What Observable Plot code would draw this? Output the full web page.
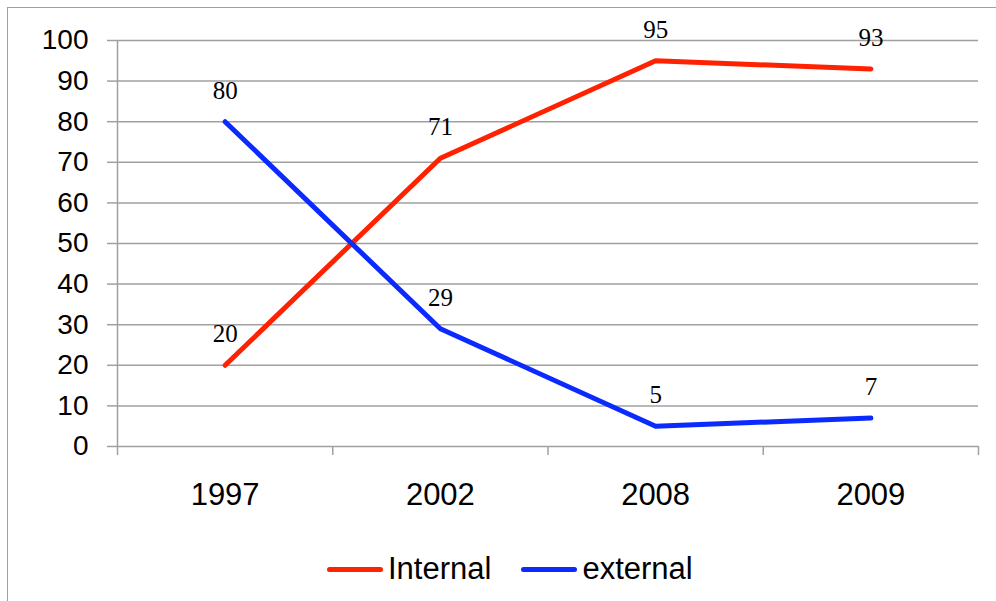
<!DOCTYPE html>
<html>
<head>
<meta charset="utf-8">
<script src="https://cdn.jsdelivr.net/npm/d3@7"></script>
<script src="https://cdn.jsdelivr.net/npm/@observablehq/plot@0.6"></script>
<style>
  html, body { margin: 0; padding: 0; background: #fff; width: 996px; height: 601px; overflow: hidden; }
  #frame { position: absolute; left: 7px; top: 7px; width: 1010px; height: 620px; border: 1.5px solid #a0a0a0; box-sizing: border-box; }
  #chart { position: absolute; left: 0; top: 0; }
  #legend { position: absolute; left: 327px; top: 551px; display: flex; align-items: center; font-family: "Liberation Sans", Arial, sans-serif; font-size: 31px; color: #000; }
  .sw { display: inline-block; width: 56px; height: 5px; border-radius: 3px; margin-right: 5px; }
  .item { display: flex; align-items: center; }
</style>
</head>
<body>
<div id="frame"></div>
<div id="chart"></div>
<div id="legend"></div>
<script>
const years = ["1997", "2002", "2008", "2009"];
const internal = [20, 71, 95, 93];
const external = [80, 29, 5, 7];
const yTicks = [0, 10, 20, 30, 40, 50, 60, 70, 80, 90, 100];
const seriesNames = ["Internal", "external"];
const seriesColors = ["#ff2200", "#0a2aff"];

const rows = years.map((year, i) => ({year, pos: i + 0.5, internal: internal[i], external: external[i]}));
const boundaries = d3.range(years.length + 1);
const centers = years.map((_, i) => i + 0.5);

const plot = Plot.plot({
  width: 996,
  height: 520,
  marginLeft: 117,
  marginRight: 18,
  marginTop: 40,
  marginBottom: 74,
  style: {background: "transparent", fontFamily: "Liberation Sans, Arial, sans-serif", overflow: "visible"},
  x: {type: "linear", domain: [0, years.length]},
  y: {domain: [0, 100]},
  marks: [
    Plot.gridY(yTicks, {stroke: "#a0a0a0", strokeOpacity: 1, strokeWidth: 1.5}),
    Plot.ruleX([0], {y1: 0, y2: 100, stroke: "#a0a0a0", strokeWidth: 1.5}),
    Plot.axisY(yTicks, {tickSize: 10, tickPadding: 19, fontSize: 28, stroke: "#a0a0a0", strokeWidth: 1.5, fill: "#000", label: null}),
    Plot.axisX(boundaries, {tickSize: 9, tickFormat: () => "", stroke: "#a0a0a0", strokeWidth: 1.5, label: null}),
    Plot.axisX(centers, {tickSize: 0, tickPadding: 36, tickFormat: (d) => years[Math.floor(d)], fontSize: 31, fill: "#000", label: null}),
    Plot.line(rows, {x: "pos", y: "internal", stroke: seriesColors[0], strokeWidth: 5, strokeLinecap: "round", strokeLinejoin: "round"}),
    Plot.line(rows, {x: "pos", y: "external", stroke: seriesColors[1], strokeWidth: 5, strokeLinecap: "round", strokeLinejoin: "round"}),
    Plot.text(rows, {x: "pos", y: "internal", text: (d) => String(d.internal), dy: -31, fontSize: 25, fontFamily: "Liberation Serif, Times New Roman, serif", fill: "#000"}),
    Plot.text(rows, {x: "pos", y: "external", text: (d) => String(d.external), dy: -31, fontSize: 25, fontFamily: "Liberation Serif, Times New Roman, serif", fill: "#000"})
  ]
});
document.getElementById("chart").appendChild(plot);

const legend = document.getElementById("legend");
seriesNames.forEach((name, i) => {
  const item = document.createElement("div");
  item.className = "item";
  if (i > 0) item.style.marginLeft = "30px";
  const sw = document.createElement("span");
  sw.className = "sw";
  sw.style.background = seriesColors[i];
  const label = document.createElement("span");
  label.textContent = name;
  item.appendChild(sw);
  item.appendChild(label);
  legend.appendChild(item);
});
</script>
</body>
</html>
